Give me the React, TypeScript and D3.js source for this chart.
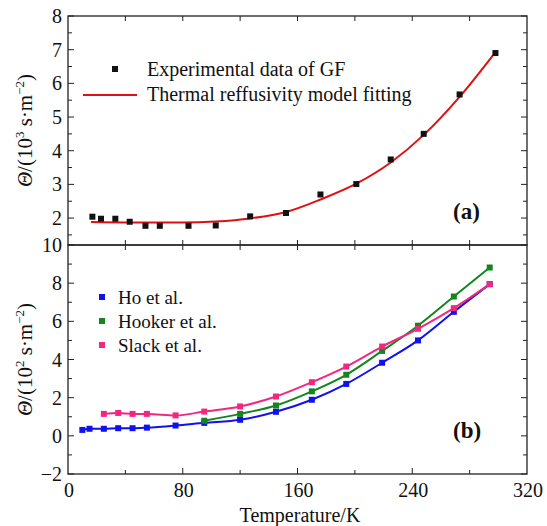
import React from "react";
import * as d3 from "d3";

const expX = [17, 23, 33, 43, 54, 64, 84, 103, 127, 152, 176, 201, 225, 248, 273, 298];
const expY = [2.04, 1.98, 1.98, 1.89, 1.77, 1.77, 1.77, 1.78, 2.05, 2.15, 2.7, 3.01, 3.74, 4.5, 5.67, 6.9];
const fitX = [16, 40, 80, 103, 127, 152, 176, 201, 225, 248, 273, 298];
const fitY = [1.88, 1.87, 1.87, 1.9, 1.99, 2.18, 2.55, 3.02, 3.65, 4.47, 5.6, 6.93];

const hoX = [10, 15, 25, 35, 45, 55, 75, 95, 120, 145, 170, 194, 219, 244, 269, 294];
const hoY = [0.31, 0.37, 0.37, 0.4, 0.4, 0.43, 0.54, 0.68, 0.84, 1.26, 1.89, 2.72, 3.83, 5.0, 6.5, 7.95];
const hookerX = [95, 120, 145, 170, 194, 219, 244, 269, 294];
const hookerY = [0.79, 1.15, 1.59, 2.33, 3.2, 4.45, 5.77, 7.3, 8.82];
const slackX = [25, 35, 45, 55, 75, 95, 120, 145, 170, 194, 219, 244, 269, 294];
const slackY = [1.15, 1.2, 1.15, 1.15, 1.07, 1.27, 1.54, 2.06, 2.81, 3.63, 4.68, 5.61, 6.69, 7.95];

const xTicks = [0, 80, 160, 240, 320];
const aTicks = [2, 3, 4, 5, 6, 7, 8];
const bTicks = [-2, 0, 2, 4, 6, 8, 10];

const L = 68, R = 527, TA = 16, MID = 245, BB = 474;
const FONT = "Liberation Serif, Times New Roman, serif";

export default function App() {
  const x = d3.scaleLinear().domain([0, 320]).range([L, R]);
  const ya = d3.scaleLinear().domain([1.2, 8]).range([MID, TA]);
  const yb = d3.scaleLinear().domain([-2, 10]).range([BB, MID]);

  const lineGen = (ys: d3.ScaleLinear<number, number>) =>
    d3.line<[number, number]>().x((d) => x(d[0])).y((d) => ys(d[1])).curve(d3.curveMonotoneX);

  const zip = (a: number[], b: number[]) => a.map((v, i) => [v, b[i]] as [number, number]);

  const xMinor = d3.range(0, 321, 40);
  const aMinor = d3.range(1.5, 8.01, 0.5);
  const bMinor = d3.range(-2, 10.01, 1);

  const series = [
    { name: "Ho et al.", xs: hoX, ys: hoY, color: "#1010f0" },
    { name: "Hooker et al.", xs: hookerX, ys: hookerY, color: "#12861c" },
    { name: "Slack et al.", xs: slackX, ys: slackY, color: "#f0287f" },
  ];

  const ms = 6;
  const tick = (v: number) => v.toString().replace("-", "\u2212");
  const T = (p: any) => <text fontFamily={FONT} fill="#111" {...p} />;

  return (
    <svg width={547} height={526} style={{ position: "absolute", left: 0, top: 0, background: "#fff", fontFamily: FONT }}>
      <g>
        {/* frames */}
        <rect x={L} y={TA} width={R - L} height={MID - TA} fill="none" stroke="#222" strokeWidth={1.3} />
        <rect x={L} y={MID} width={R - L} height={BB - MID} fill="none" stroke="#222" strokeWidth={1.3} />

        {/* x ticks */}
        {xMinor.filter((v) => v > 0 && v < 320).map((v) => (
          <g key={"xt" + v} stroke="#222" strokeWidth={1}>
            <line x1={x(v)} x2={x(v)} y1={TA} y2={TA + 5} />
            <line x1={x(v)} x2={x(v)} y1={MID} y2={MID - 5} />
            <line x1={x(v)} x2={x(v)} y1={MID} y2={MID + 5} />
            <line x1={x(v)} x2={x(v)} y1={BB} y2={BB - (v % 80 === 0 ? 6 : 4)} />
          </g>
        ))}
        {xTicks.map((v) => (
          <T key={"xl" + v} x={x(v) + 1} y={497} textAnchor="middle" fontSize={20}>{v}</T>
        ))}
        <T x={300} y={522} textAnchor="middle" fontSize={20}>Temperature/K</T>

        {/* panel a y ticks */}
        {aMinor.map((v) => (
          <g key={"at" + v} stroke="#222" strokeWidth={1}>
            <line x1={L} x2={L + (Number.isInteger(v) ? 6 : 4)} y1={ya(v)} y2={ya(v)} />
            <line x1={R} x2={R - (Number.isInteger(v) ? 6 : 4)} y1={ya(v)} y2={ya(v)} />
          </g>
        ))}
        {aTicks.map((v) => (
          <T key={"al" + v} x={L - 6} y={ya(v) + 7} textAnchor="end" fontSize={20}>{v}</T>
        ))}

        {/* panel b y ticks */}
        {bMinor.map((v) => (
          <g key={"bt" + v} stroke="#222" strokeWidth={1}>
            <line x1={L} x2={L + (v % 2 === 0 ? 6 : 4)} y1={yb(v)} y2={yb(v)} />
            <line x1={R} x2={R - (v % 2 === 0 ? 6 : 4)} y1={yb(v)} y2={yb(v)} />
          </g>
        ))}
        {bTicks.map((v) => (
          <T key={"bl" + v} x={L - 6} y={yb(v) + 7} textAnchor="end" fontSize={20}>{tick(v)}</T>
        ))}

        {/* y labels */}
        <T transform={`translate(32,${(TA + MID) / 2}) rotate(-90)`} textAnchor="middle" fontSize={21}>
          <tspan fontStyle="italic">Θ</tspan>/(10<tspan dy={-8} fontSize={13}>3</tspan>
          <tspan dy={8}> s·m</tspan><tspan dy={-8} fontSize={13}>−2</tspan><tspan dy={8}>)</tspan>
        </T>
        <T transform={`translate(32,${(MID + BB) / 2}) rotate(-90)`} textAnchor="middle" fontSize={21}>
          <tspan fontStyle="italic">Θ</tspan>/(10<tspan dy={-8} fontSize={13}>2</tspan>
          <tspan dy={8}> s·m</tspan><tspan dy={-8} fontSize={13}>−2</tspan><tspan dy={8}>)</tspan>
        </T>

        {/* panel a data */}
        <path d={lineGen(ya)(zip(fitX, fitY)) || ""} fill="none" stroke="#e01010" strokeWidth={2} />
        {expX.map((v, i) => (
          <rect key={"e" + i} x={x(v) - ms / 2} y={ya(expY[i]) - ms / 2} width={ms} height={ms} fill="#111" />
        ))}

        {/* panel a legend */}
        <rect x={115 - 3} y={69 - 3} width={6} height={6} fill="#111" />
        <T x={147} y={76} fontSize={20}>Experimental data of GF</T>
        <line x1={83} x2={137} y1={95} y2={95} stroke="#e01010" strokeWidth={2} />
        <T x={147} y={101} fontSize={20}>Thermal reffusivity model fitting</T>
        <T x={453} y={219} fontSize={23} fontWeight="bold">(a)</T>

        {/* panel b data */}
        {series.map((s) => (
          <g key={s.name}>
            <path d={lineGen(yb)(zip(s.xs, s.ys)) || ""} fill="none" stroke={s.color} strokeWidth={2} />
            {s.xs.map((v, i) => (
              <rect key={i} x={x(v) - ms / 2} y={yb(s.ys[i]) - ms / 2} width={ms} height={ms} fill={s.color} />
            ))}
          </g>
        ))}

        {/* panel b legend */}
        {series.map((s, i) => (
          <g key={"lg" + i}>
            <rect x={102 - 3} y={297 + i * 24 - 3} width={6} height={6} fill={s.color} />
            <T x={118} y={304 + i * 24} fontSize={19}>{s.name}</T>
          </g>
        ))}
        <T x={453} y={438} fontSize={23} fontWeight="bold">(b)</T>
      </g>
    </svg>
  );
}
